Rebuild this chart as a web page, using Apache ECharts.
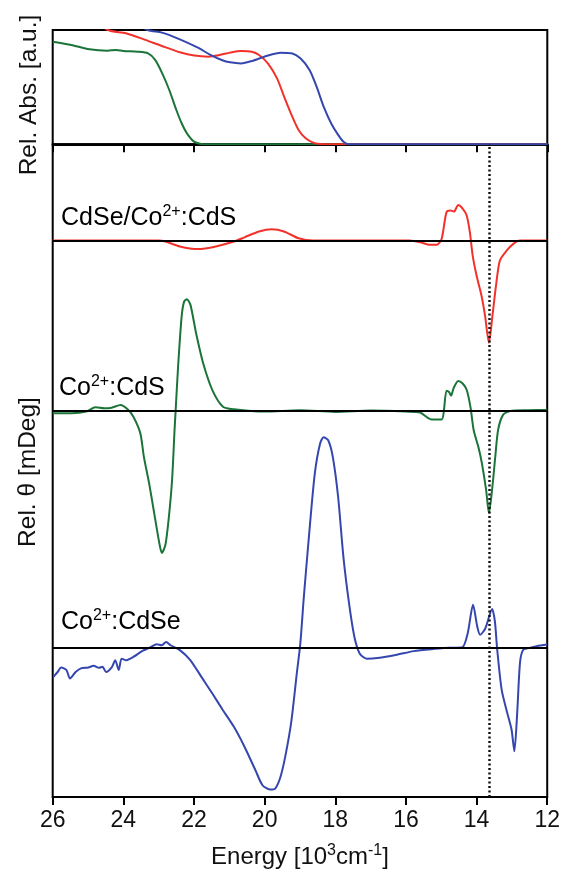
<!DOCTYPE html>
<html><head><meta charset="utf-8">
<script src="https://cdn.jsdelivr.net/npm/echarts@6/dist/echarts.min.js"></script>
<style>html,body{margin:0;padding:0;background:#fff}#c{width:563px;height:878px}</style>
</head><body><div id="c"></div>
<script>
// ---------- data (energy in 10^3 cm^-1) ----------
const xMin = 12, xMax = 26, xStep = 2;
const dottedLineE = 13.64;

// Top panel: relative absorption
const absGreenE = [26.0,25.47,24.96,24.45,24.2,24.0,23.6,23.3,23.1,22.9,22.7,22.5,22.35,22.2,22.0,21.8,21.6,12.0];
const absGreen  = [0.898,0.869,0.831,0.819,0.825,0.816,0.81,0.796,0.738,0.621,0.475,0.30,0.184,0.096,0.023,0.003,0,0];
const absRedE = [24.8,24.44,23.93,23.42,22.91,22.40,21.99,21.59,21.28,20.98,20.67,20.36,20.16,19.91,19.65,19.45,19.24,19.04,18.84,18.63,18.43,18.2,12.0];
const absRed  = [1.10,1.0,0.971,0.918,0.86,0.805,0.776,0.767,0.781,0.802,0.816,0.81,0.781,0.708,0.577,0.417,0.257,0.125,0.052,0.015,0.003,0,0];
const absBlueE = [23.7,23.31,22.91,22.40,21.89,21.55,21.2,20.98,20.67,20.36,19.95,19.55,19.24,18.99,18.73,18.53,18.33,18.12,17.92,17.77,17.61,12.0];
const absBlue  = [1.08,1.0,0.977,0.918,0.845,0.785,0.735,0.717,0.708,0.729,0.773,0.802,0.796,0.752,0.65,0.504,0.329,0.184,0.082,0.023,0,0];

// Bottom panel: MCD traces (deviation from own baseline) and baseline offsets
const mcdOffsets = { red: 7.05, green: 1.83, blue: -5.43 };
const mcdRedE = [26,24,23.0,22.81,22.40,21.89,21.38,20.87,20.57,20.16,19.80,19.45,19.04,18.63,15.90,15.60,15.32,15.13,14.99,14.85,14.73,14.64,14.52,14.40,14.28,14.19,14.11,14.0,13.86,13.76,13.65,13.55,13.45,13.34,13.15,12.96,12.77,12];
const mcdRed  = [0,0,0,-0.03,-0.18,-0.26,-0.18,-0.03,0.10,0.28,0.35,0.28,0.07,0,0,-0.05,-0.13,-0.13,0.05,0.87,0.92,0.89,1.09,0.99,0.77,0.26,-0.46,-1.07,-1.69,-2.30,-3.13,-2.30,-1.38,-0.61,-0.31,-0.10,0,0];
const mcdGreenE = [26,25.47,25.05,24.79,24.54,24.33,24.08,23.88,23.72,23.52,23.42,23.27,23.11,22.98,22.91,22.81,22.71,22.62,22.55,22.52,22.45,22.35,22.28,22.20,22.10,21.94,21.74,21.48,21.18,20.87,20.0,19.0,18.0,17.0,16.0,15.60,15.28,14.99,14.85,14.78,14.72,14.65,14.52,14.40,14.28,14.17,14.08,13.95,13.85,13.73,13.65,13.55,13.47,13.39,13.25,13.05,12.52,12];
const mcdGreen  = [-0.07,-0.07,-0.02,0.11,0.08,0.10,0.18,0.05,-0.17,-0.68,-1.40,-2.22,-3.24,-4.06,-4.35,-4.11,-3.24,-2.11,-0.58,0,1.36,2.89,3.35,3.42,3.25,2.38,1.46,0.64,0.13,0.05,-0.02,0.02,-0.03,0.01,-0.02,-0.05,-0.26,-0.26,0.62,0.58,0.47,0.70,0.92,0.85,0.65,0.10,-0.60,-1.10,-1.60,-2.42,-3.13,-2.30,-1.40,-0.58,-0.12,0,0.02,0.03];
const mcdBlueE = [25.98,25.86,25.76,25.61,25.51,25.35,25.20,24.99,24.84,24.69,24.59,24.49,24.33,24.23,24.13,24.05,23.93,23.72,23.47,23.21,23.06,22.91,22.79,22.66,22.40,22.10,21.79,21.48,21.18,20.87,20.57,20.26,20.06,19.85,19.70,19.55,19.40,19.24,19.09,18.99,18.89,18.73,18.58,18.43,18.33,18.20,18.07,17.92,17.77,17.61,17.46,17.31,17.11,16.80,16.29,15.78,15.27,14.76,14.40,14.25,14.10,13.98,13.90,13.75,13.56,13.48,13.42,13.29,13.13,13.01,12.93,12.85,12.77,12.68,12.50,12.30,12.0];
const mcdBlue  = [-0.89,-0.74,-0.60,-0.68,-0.94,-0.74,-0.63,-0.60,-0.55,-0.61,-0.58,-0.74,-0.60,-0.38,-0.68,-0.33,-0.38,-0.28,-0.10,0.03,0.11,0.08,0.18,0.08,-0.07,-0.38,-0.89,-1.40,-1.91,-2.42,-3.03,-3.75,-4.21,-4.34,-4.31,-3.95,-3.24,-2.22,-0.79,0.13,1.56,3.61,5.34,6.26,6.45,6.36,5.85,4.63,2.79,1.36,0.34,-0.17,-0.33,-0.31,-0.22,-0.10,-0.04,0,0.02,0.45,1.32,0.65,0.40,0.60,1.19,0.80,0,-1.28,-2.0,-2.5,-3.17,-2.0,-0.45,-0.06,0,0.05,0.10];

const labels = {
  red: '{n|CdSe/Co}{s|2+}{n|:CdS}',
  green: '{n|Co}{s|2+}{n|:CdS}',
  blue: '{n|Co}{s|2+}{n|:CdSe}'
};

// ---------- styles ----------
const FONT = 'Arial, "Liberation Sans", Helvetica, sans-serif';
const TXT = '#111';
const C_RED = '#f2322a', C_GREEN = '#1b7438', C_BLUE = '#3547ae';
const zip = (xs, ys, off) => xs.map((x, i) => [x, ys[i] + (off || 0)]);

const G_LEFT = 52.7, G_RIGHT = 15.7, G1_TOP = 30, G1_H = 114.3, G2_TOP = 144.3, G2_H = 652.7;

function xAxisCfg(gridIndex, labelsOn) {
  return {
    type: 'value', gridIndex, min: xMin, max: xMax, interval: xStep, inverse: true,
    axisLine: { show: true, onZero: false, lineStyle: { color: '#000', width: 2 } },
    axisTick: { show: true, inside: false, length: 8, lineStyle: { color: '#000', width: 2 } },
    axisLabel: { show: labelsOn, fontSize: 23, color: TXT, fontFamily: FONT, margin: 12 },
    splitLine: { show: false }
  };
}
function yAxisCfg(gridIndex, min, max) {
  return { type: 'value', gridIndex, min, max, axisLine: { show: false }, axisTick: { show: false }, axisLabel: { show: false }, splitLine: { show: false } };
}
function lineSeries(name, x, y, off, color, xi, yi, extra) {
  return Object.assign({
    name, type: 'line', xAxisIndex: xi, yAxisIndex: yi, data: zip(x, y, off),
    showSymbol: false, smooth: 0.25, clip: true, lineStyle: { color, width: 2 }, itemStyle: { color }, z: 3
  }, extra || {});
}
function baseline(v) {
  return { silent: true, symbol: 'none', label: { show: false }, lineStyle: { color: '#000', width: 2, type: 'solid' }, data: [{ yAxis: v }] };
}
const richLabel = {
  n: { fontSize: 25, fontFamily: FONT, color: TXT, lineHeight: 28 },
  s: { fontSize: 16, fontFamily: FONT, color: TXT, lineHeight: 8, verticalAlign: 'top' }
};

const chart = echarts.init(document.getElementById('c'), null, { renderer: 'canvas' });
chart.setOption({
  animation: false,
  backgroundColor: '#fff',
  grid: [
    { left: G_LEFT, right: G_RIGHT, top: G1_TOP, height: G1_H, show: true, borderColor: '#000', borderWidth: 2, backgroundColor: 'transparent' },
    { left: G_LEFT, right: G_RIGHT, top: G2_TOP, height: G2_H, show: true, borderColor: '#000', borderWidth: 2, backgroundColor: 'transparent' }
  ],
  xAxis: [
    xAxisCfg(0, false),
    Object.assign(xAxisCfg(1, true), {
      name: '{a|Energy [10}{s|3}{a|cm}{s|-1}{a|]}', nameLocation: 'middle', nameGap: 46,
      nameTextStyle: { color: TXT, fontFamily: FONT, rich: {
        a: { fontSize: 24, fontFamily: FONT, color: TXT, lineHeight: 28 },
        s: { fontSize: 16, fontFamily: FONT, color: TXT, lineHeight: 8, verticalAlign: 'top' } } }
    })
  ],
  yAxis: [yAxisCfg(0, 0, 1), yAxisCfg(1, -10, 10)],
  series: [
    lineSeries('abs Co:CdS', absGreenE, absGreen, 0, C_GREEN, 0, 0),
    lineSeries('abs CdSe/Co:CdS', absRedE, absRed, 0, C_RED, 0, 0),
    lineSeries('abs Co:CdSe', absBlueE, absBlue, 0, C_BLUE, 0, 0),
    lineSeries('MCD CdSe/Co:CdS', mcdRedE, mcdRed, mcdOffsets.red, C_RED, 1, 1, { markLine: baseline(mcdOffsets.red) }),
    lineSeries('MCD Co:CdS', mcdGreenE, mcdGreen, mcdOffsets.green, C_GREEN, 1, 1, { markLine: baseline(mcdOffsets.green) }),
    lineSeries('MCD Co:CdSe', mcdBlueE, mcdBlue, mcdOffsets.blue, C_BLUE, 1, 1, {
      markLine: { silent: true, symbol: 'none', label: { show: false },
        data: [
          { yAxis: mcdOffsets.blue, lineStyle: { color: '#000', width: 2, type: 'solid' } },
          { xAxis: dottedLineE, lineStyle: { color: '#111', width: 2.5, type: [2, 2.5] } }
        ] }
    })
  ],
  graphic: [
    { type: 'text', left: 61, top: 204, style: { text: labels.red, rich: richLabel } },
    { type: 'text', left: 59, top: 374, style: { text: labels.green, rich: richLabel } },
    { type: 'text', left: 61, top: 608, style: { text: labels.blue, rich: richLabel } },
    { type: 'text', x: 29, y: 95, rotation: Math.PI / 2, style: { text: 'Rel. Abs. [a.u.]', fontSize: 24.5, fontFamily: FONT, fill: TXT, textAlign: 'center', textVerticalAlign: 'middle' } },
    { type: 'text', x: 28, y: 472, rotation: Math.PI / 2, style: { text: 'Rel. \u03b8 [mDeg]', fontSize: 24.5, fontFamily: FONT, fill: TXT, textAlign: 'center', textVerticalAlign: 'middle' } }
  ]
});
</script></body></html>
